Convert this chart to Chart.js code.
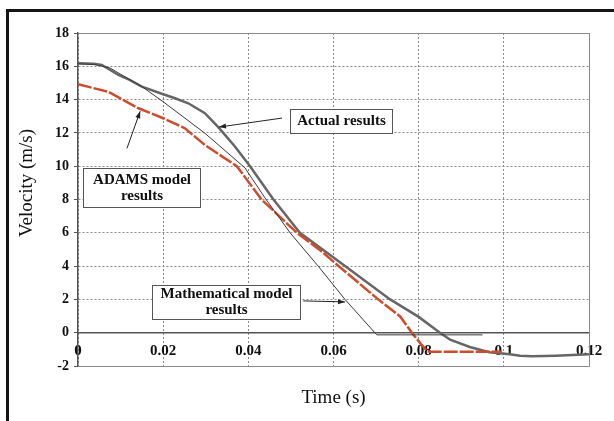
<!DOCTYPE html>
<html>
<head>
<meta charset="utf-8">
<script src="https://cdn.jsdelivr.net/npm/chart.js@4.4.0/dist/chart.umd.min.js"></script>
<style>
  html, body { margin: 0; padding: 0; background: #fff; }
  #wrap { position: relative; width: 614px; height: 421px; overflow: hidden; }
  #frame {
    position: absolute; left: 6px; top: 9px; width: 700px; height: 500px;
    border-left: 3px solid #151515; border-top: 3px solid #151515;
    pointer-events: none;
  }
  canvas { position: absolute; left: 0; top: 0; }
</style>
</head>
<body>
<div id="wrap">
  <canvas id="chart" width="614" height="421"></canvas>
  <div id="frame"></div>
</div>
<script>
// time (s) / velocity (m/s)
const actualT = [0, 0.0037, 0.0056, 0.0095, 0.012, 0.015, 0.02, 0.0228, 0.0259, 0.0298, 0.0331, 0.0368, 0.0404, 0.0459, 0.0521, 0.0576, 0.0627, 0.0733, 0.08, 0.085, 0.0874, 0.092, 0.0966, 0.1014, 0.1038, 0.1067, 0.1122, 0.12];
const actualV = [16.18, 16.15, 16.08, 15.48, 15.2, 14.78, 14.32, 14.08, 13.78, 13.18, 12.3, 11.2, 10.0, 8.0, 6.0, 4.97, 4.0, 2.0, 0.95, 0, -0.42, -0.86, -1.17, -1.3, -1.38, -1.42, -1.38, -1.3];

const adamsT = [0, 0.0071, 0.0142, 0.02, 0.0251, 0.0298, 0.0373, 0.0431, 0.0514, 0.0568, 0.0612, 0.0705, 0.0757, 0.0784, 0.0805, 0.0818, 0.0825, 0.0995];
const adamsV = [14.92, 14.47, 13.48, 12.88, 12.28, 11.27, 10.0, 8.0, 6.0, 4.97, 4.0, 2.0, 0.96, 0, -0.67, -1.06, -1.14, -1.14];

const mathT = [0, 0.004, 0.0075, 0.0115, 0.015, 0.02, 0.0298, 0.0392, 0.0439, 0.0498, 0.0564, 0.0627, 0.0697, 0.0702, 0.095];
const mathV = [16.15, 16.1, 15.9, 15.3, 14.78, 13.87, 11.98, 9.9, 8.1, 6.0, 4.0, 2.0, 0, -0.13, -0.13];

const xTickLabels = ["0", "0.02", "0.04", "0.06", "0.08", "0.1", "0.12"];
const yTickLabels = ["-2", "0", "2", "4", "6", "8", "10", "12", "14", "16", "18"];

// callout boxes and arrows, in data units
const notes = [
  { lines: ["Actual results"], box: [0.0498, 13.44, 0.0737, 12.0], arrow: [0.0479, 12.89, 0.0331, 12.35] },
  { lines: ["ADAMS model", "results"], box: [0.0012, 9.89, 0.0287, 7.55], arrow: [0.0115, 11.07, 0.0146, 13.3] },
  { lines: ["Mathematical model", "results"], box: [0.0174, 2.86, 0.0521, 0.82], arrow: [0.0529, 1.91, 0.0627, 1.85] },
];

const toPoints = (ts, vs) => ts.map((t, i) => ({ x: t, y: vs[i] }));

const serif = "'Liberation Serif', 'Times New Roman', serif";

const plotFrame = {
  id: "plotFrame",
  beforeDatasetsDraw(chart) {
    const { ctx, chartArea: a } = chart;
    ctx.save();
    ctx.strokeStyle = "#8a8a8a";
    ctx.lineWidth = 1;
    ctx.beginPath();
    ctx.moveTo(a.left, a.top + 0.5);
    ctx.lineTo(a.right + 0.5, a.top + 0.5);
    ctx.lineTo(a.right + 0.5, a.bottom + 0.5);
    ctx.lineTo(a.left, a.bottom + 0.5);
    ctx.stroke();
    ctx.restore();
  },
};

function arrow(ctx, x1, y1, x2, y2) {
  const ang = Math.atan2(y2 - y1, x2 - x1);
  ctx.beginPath();
  ctx.moveTo(x1, y1);
  ctx.lineTo(x2, y2);
  ctx.stroke();
  ctx.beginPath();
  ctx.moveTo(x2, y2);
  ctx.lineTo(x2 - 7 * Math.cos(ang) + 2.5 * Math.sin(ang), y2 - 7 * Math.sin(ang) - 2.5 * Math.cos(ang));
  ctx.lineTo(x2 - 7 * Math.cos(ang) - 2.5 * Math.sin(ang), y2 - 7 * Math.sin(ang) + 2.5 * Math.cos(ang));
  ctx.closePath();
  ctx.fill();
}

const callouts = {
  id: "callouts",
  afterDatasetsDraw(chart) {
    const { ctx, scales: { x, y } } = chart;
    ctx.save();
    notes.forEach((n) => {
      const l = Math.round(x.getPixelForValue(n.box[0])) + 0.5;
      const t = Math.round(y.getPixelForValue(n.box[1])) + 0.5;
      const r = Math.round(x.getPixelForValue(n.box[2])) + 0.5;
      const b = Math.round(y.getPixelForValue(n.box[3])) + 0.5;
      ctx.fillStyle = "#fff";
      ctx.fillRect(l, t, r - l, b - t);
      ctx.strokeStyle = "#555";
      ctx.lineWidth = 1;
      ctx.strokeRect(l, t, r - l, b - t);
      ctx.fillStyle = "#111";
      ctx.font = "bold 15px " + serif;
      ctx.textAlign = "center";
      ctx.textBaseline = "middle";
      const lh = 16;
      const cy = (t + b) / 2 - ((n.lines.length - 1) * lh) / 2;
      n.lines.forEach((s, i) => ctx.fillText(s, (l + r) / 2, cy + i * lh));
      ctx.strokeStyle = "#222";
      ctx.fillStyle = "#222";
      arrow(ctx,
        x.getPixelForValue(n.arrow[0]), y.getPixelForValue(n.arrow[1]),
        x.getPixelForValue(n.arrow[2]), y.getPixelForValue(n.arrow[3]));
    });

    // axis titles
    const a = chart.chartArea;
    ctx.fillStyle = "#111";
    ctx.font = "19px " + serif;
    ctx.textAlign = "center";
    ctx.textBaseline = "middle";
    ctx.fillText("Time (s)", (a.left + a.right) / 2, a.bottom + 32);
    ctx.translate(27, a.top + 150);
    ctx.rotate(-Math.PI / 2);
    ctx.fillText("Velocity (m/s)", 0, 0);
    ctx.restore();
  },
};

const ctx = document.getElementById("chart").getContext("2d");

new Chart(ctx, {
  type: "line",
  data: {
    datasets: [
      {
        label: "Mathematical model results",
        data: toPoints(mathT, mathV),
        borderColor: "#3a3a3a",
        borderWidth: 1,
        pointRadius: 0,
        tension: 0,
      },
      {
        label: "ADAMS model results",
        data: toPoints(adamsT, adamsV),
        borderColor: "#cf4b2b",
        borderWidth: 2.5,
        borderDash: [14, 2],
        pointRadius: 0,
        tension: 0,
      },
      {
        label: "Actual results",
        data: toPoints(actualT, actualV),
        borderColor: "#666",
        borderWidth: 2.5,
        pointRadius: 0,
        tension: 0,
      },
    ],
  },
  options: {
    responsive: false,
    animation: false,
    devicePixelRatio: 1,
    layout: { padding: { top: 33, right: 25, bottom: 55, left: 0 } },
    plugins: {
      legend: { display: false },
      tooltip: { enabled: false },
    },
    scales: {
      x: {
        type: "linear",
        min: 0,
        max: 0.12,
        position: { y: 0 },
        ticks: {
          stepSize: 0.02,
          autoSkip: false,
          maxRotation: 0,
          padding: 9,
          color: "#111",
          font: { family: serif, weight: "bold", size: 15 },
          callback: (v, i) => xTickLabels[i],
        },
        grid: { color: "#8a8a8a", lineWidth: 1, drawTicks: false },
        border: { display: true, color: "#555", width: 1.5, dash: [2, 2] },
      },
      y: {
        type: "linear",
        min: -2,
        max: 18,
        ticks: {
          stepSize: 2,
          padding: 5,
          color: "#111",
          font: { family: serif, weight: "bold", size: 14 },
          callback: (v, i) => yTickLabels[i],
        },
        grid: {
          color: (c) => (c.tick && c.tick.value === 0 ? "rgba(0,0,0,0)" : "#8a8a8a"),
          lineWidth: 1,
          tickLength: 4,
          tickColor: "#555",
          tickBorderDash: [],
        },
        border: { color: "#555", width: 1.5, dash: [2, 2] },
        afterFit: (s) => {
          s.width = 78;
        },
      },
    },
  },
  plugins: [plotFrame, callouts],
});
</script>
</body>
</html>
